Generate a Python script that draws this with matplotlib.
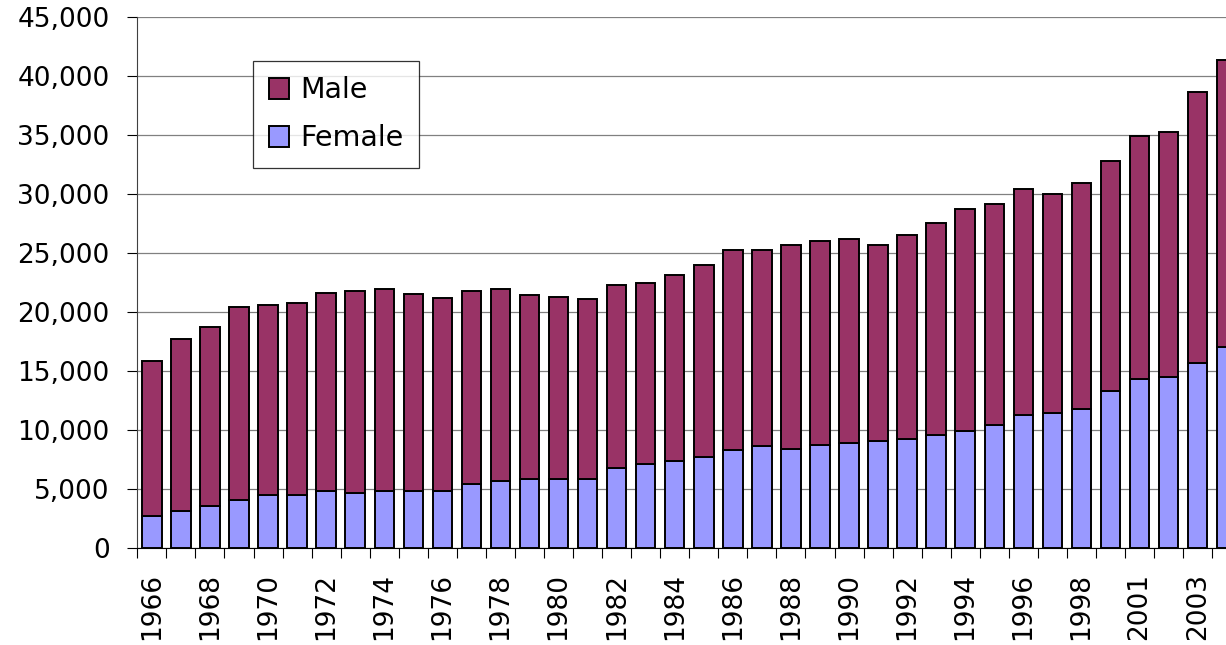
import matplotlib
matplotlib.use('Agg')
import matplotlib.pyplot as plt
from matplotlib.ticker import FuncFormatter, FixedLocator
import numpy as np

# years on the category axis (every other one gets a label)
years = ['1966', '1967', '1968', '1969', '1970', '1971', '1972', '1973',
         '1974', '1975', '1976', '1977', '1978', '1979', '1980', '1981',
         '1982', '1983', '1984', '1985', '1986', '1987', '1988', '1989',
         '1990', '1991', '1992', '1993', '1994', '1995', '1996', '1997',
         '1998', '2000', '2001', '2002', '2003', '2004']

female = [2660, 3140, 3570, 4050, 4500, 4500, 4840, 4670,
          4840, 4840, 4840, 5380, 5700, 5830, 5830, 5830,
          6730, 7080, 7360, 7730, 8270, 8610, 8400, 8740,
          8890, 9030, 9240, 9600, 9910, 10390, 11270, 11450,
          11790, 13300, 14330, 14520, 15670, 17060]

male = [13210, 14580, 15190, 16380, 16100, 16270, 16810, 17150,
        17120, 16660, 16330, 16440, 16260, 15650, 15480, 15310,
        15600, 15420, 15790, 16290, 16970, 16630, 17300, 17320,
        17310, 16670, 17260, 17920, 18850, 18820, 19150, 18610,
        19150, 19490, 20640, 20780, 23030, 24360]

male_col = '#993366'
female_col = '#9999FF'

plt.rcParams['font.family'] = 'DejaVu Sans'

fig = plt.figure(figsize=(12.26, 6.45), dpi=100)
# axes run a little past the right edge, like the cropped original
ax = fig.add_axes([0.1120, 0.1509, 0.9004, 0.8220])

x = np.arange(len(years))
fb = ax.bar(x, female, width=0.67, color=female_col, edgecolor='black',
            linewidth=1.4, zorder=3)
mb = ax.bar(x, male, width=0.67, bottom=female, color=male_col,
            edgecolor='black', linewidth=1.4, zorder=3)

ax.set_xlim(-0.5, len(years) - 0.5)
ax.set_ylim(0, 45000)
ax.set_yticks(np.arange(0, 45001, 5000))
ax.yaxis.set_major_formatter(FuncFormatter(lambda v, p: '{:,.0f}'.format(v)))
ax.yaxis.grid(True, color='#808080', linewidth=0.9, zorder=0)

# tick marks between categories, labels on every second category
ax.xaxis.set_major_locator(FixedLocator(np.arange(-0.5, len(years), 1.0)))
ax.xaxis.set_major_formatter(FuncFormatter(lambda v, p: ''))
ax.xaxis.set_minor_locator(FixedLocator(x[::2]))
ax.set_xticklabels([years[i] for i in x[::2]], minor=True, rotation=90)
ax.tick_params(axis='x', which='major', direction='out', length=7, width=0.8)
ax.tick_params(axis='x', which='minor', length=0, pad=18, labelsize=19)
ax.tick_params(axis='y', direction='out', length=7, width=0.8, pad=13,
               labelsize=19)

for s in ['top', 'right']:
    ax.spines[s].set_visible(False)
ax.spines['left'].set_color('#404040')
ax.spines['bottom'].set_color('black')

leg = ax.legend([mb, fb], ['Male', 'Female'], loc='upper left',
                bbox_to_anchor=(0.1051, 0.9185), borderaxespad=0,
                fontsize=20.5, frameon=True, fancybox=False,
                handlelength=0.72, handleheight=0.74, handletextpad=0.38,
                borderpad=0.55, labelspacing=0.7)
leg.get_frame().set_edgecolor('black')
leg.get_frame().set_linewidth(0.9)
leg.set_zorder(5)

fig.savefig('out.png', dpi=100)
